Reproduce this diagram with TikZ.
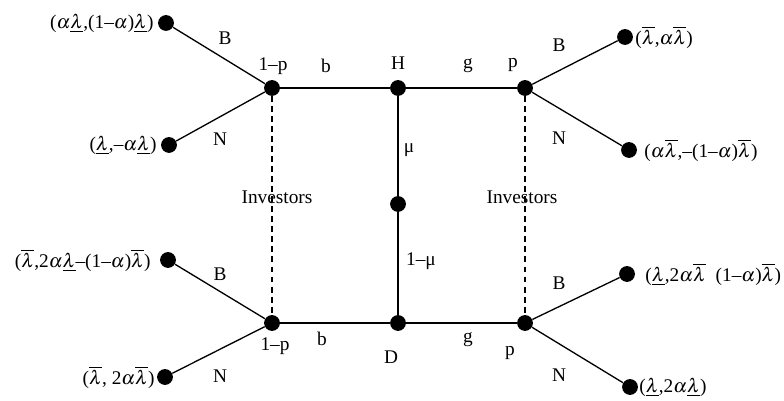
\documentclass[tikz,border=0pt]{standalone}
\usepackage{mathptmx}
\usepackage{fontspec}
\setmainfont{Liberation Serif}
\usepackage{tikz}
\usetikzlibrary{arrows.meta, positioning}

\begin{document}
\begin{tikzpicture}[
    x=0.02cm, y=-0.02cm,
    every node/.style={font=\fontsize{11}{13}\selectfont, text=black, inner sep=1pt},
    dot/.style={circle, fill=black, draw=none, minimum size=9pt, inner sep=0pt},
    edge/.style={draw=black, line width=0.75pt},
    guide/.style={draw=black, line width=0.6pt, dash pattern=on 3.4pt off 2.3pt},
    lbl/.style={anchor=center},
    payR/.style={anchor=west, inner sep=0pt},
    payL/.style={anchor=east, inner sep=0pt}
  ]
    \useasboundingbox (0,0) rectangle (784,401);

    % junctions
    \node[dot] (tl) at (272,88) {};
    \node[dot] (h) at (398,88) {};
    \node[dot] (tr) at (525,88) {};
    \node[dot] (m) at (398,204) {};
    \node[dot] (bl) at (272,323) {};
    \node[dot] (d) at (398,323) {};
    \node[dot] (br) at (525,323) {};

    % leaves
    \node[dot] (tlB) at (166,23) {};
    \node[dot] (tlN) at (169,145) {};
    \node[dot] (trB) at (625,37) {};
    \node[dot] (trN) at (629,150) {};
    \node[dot] (blB) at (168,260) {};
    \node[dot] (blN) at (165,377) {};
    \node[dot] (brB) at (627,274) {};
    \node[dot] (brN) at (630,387) {};

    % connectors
    \draw[edge] (tl) -- (h) -- (tr);
    \draw[edge] (bl) -- (d) -- (br);
    \draw[edge] (h) -- (m) -- (d);
    \draw[guide] (tl) -- (bl);
    \draw[guide] (tr) -- (br);
    \draw[edge] (tlB) -- (tl) -- (tlN);
    \draw[edge] (trB) -- (tr) -- (trN);
    \draw[edge] (blB) -- (bl) -- (blN);
    \draw[edge] (brB) -- (br) -- (brN);

    % labels
    \node[lbl] (ptl) at (273,66) {1--p};
    \node[lbl] (btop) at (326,66) {b};
    \node[lbl] (hlbl) at (398,63) {H};
    \node[lbl] (gtop) at (468,66) {g};
    \node[lbl] (ptr) at (513,65) {p};
    \node[lbl] (pbl) at (275,346) {1--p};
    \node[lbl] (bbot) at (322,339) {b};
    \node[lbl] (dlbl) at (391,357) {D};
    \node[lbl] (gbot) at (468,340) {g};
    \node[lbl] (pbr) at (510,353) {p};
    \node[lbl] (mu) at (409,150) {μ};
    \node[lbl] (onemu) at (421,261) {1--μ};
    \node[lbl] (invL) at (277,197) {Investors};
    \node[lbl] (invR) at (522,197) {Investors};

    \node[lbl] (tlBl) at (225,38) {B};
    \node[lbl] (tlNl) at (220,139) {N};
    \node[lbl] (trBl) at (559,45) {B};
    \node[lbl] (trNl) at (559,138) {N};
    \node[lbl] (blBl) at (220,274) {B};
    \node[lbl] (blNl) at (220,376) {N};
    \node[lbl] (brBl) at (559,283) {B};
    \node[lbl] (brNl) at (559,375) {N};

    % payoffs
    \node[payL] at (154,23) {($\alpha\underline{\lambda}$,(1--$\alpha$)$\underline{\lambda}$)};
    \node[payL] at (157,145) {($\underline{\lambda}$,--$\alpha\underline{\lambda}$)};
    \node[payR] at (635,37) {($\overline{\lambda}$,$\alpha\overline{\lambda}$)};
    \node[payR] at (644,150) {($\alpha\overline{\lambda}$,--(1--$\alpha$)$\overline{\lambda}$)};
    \node[payL] at (151,260) {($\overline{\lambda}$,2$\alpha\underline{\lambda}$--(1--$\alpha$)$\overline{\lambda}$)};
    \node[payL] at (155,377) {($\overline{\lambda}$, 2$\alpha\overline{\lambda}$)};
    \node[payR] at (645,274) {($\underline{\lambda}$,2$\alpha\overline{\lambda}$\ \ (1--$\alpha$)$\overline{\lambda}$)};
    \node[payR] at (639,387) {($\underline{\lambda}$,2$\alpha\underline{\lambda}$)};
  \end{tikzpicture}
\end{document}
